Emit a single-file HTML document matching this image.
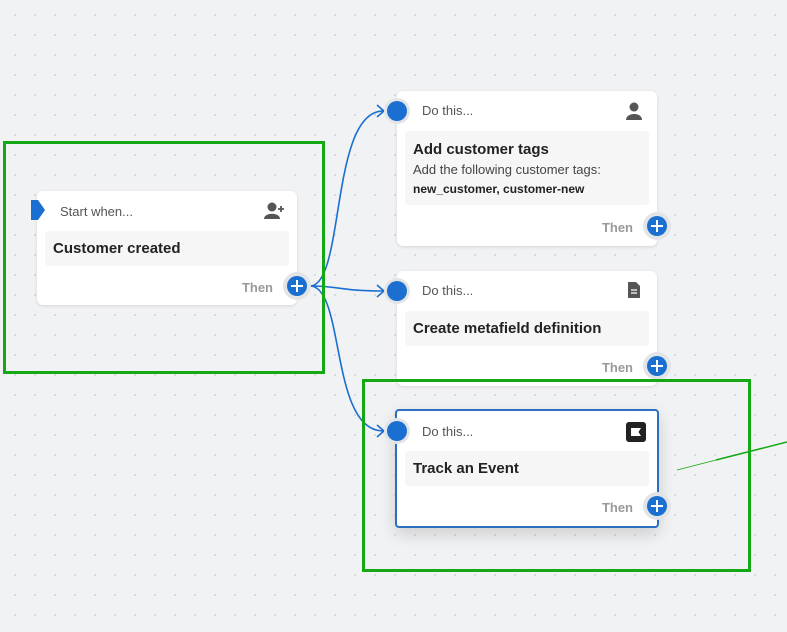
<!DOCTYPE html>
<html><head><style>
body{margin:0;width:787px;height:632px;overflow:hidden;background-color:#f1f2f3;background-image:radial-gradient(circle,#d6d8db 1px,transparent 1.2px);background-size:20px 20px;background-position:5px 5px;font-family:"Liberation Sans",sans-serif;position:relative}
.card{position:absolute;background:#fff;border-radius:6px;box-shadow:0 1px 3px rgba(0,0,0,.12)}
.hd{position:absolute;left:25px;top:12px;font-size:13px;color:#555}
.in{position:absolute;left:8px;right:8px;background:#f6f6f7;border-radius:4px}
.ti{position:absolute;left:8px;font-size:15px;font-weight:bold;color:#222}
.then{position:absolute;right:24px;font-size:13px;font-weight:bold;color:#999}
.plus{position:absolute;width:20px;height:20px;border-radius:50%;background:#1a6fd1;box-shadow:0 0 0 4px #e3e4e6}
.plus:before{content:"";position:absolute;left:4px;top:9px;width:12px;height:2px;background:#fff}
.plus:after{content:"";position:absolute;left:9px;top:4px;width:2px;height:12px;background:#fff}
.dot{position:absolute;width:20px;height:20px;border-radius:50%;background:#1a6fd1;box-shadow:0 0 0 3px #e3e4e6}
.gb{position:absolute;border:3px solid #14a814}
</style></head><body>
<svg width="787" height="632" style="position:absolute;left:0;top:0">
<g fill="none" stroke="#1a6fd1" stroke-width="1.6">
<path d="M310,286 C345,286 330,111 383,111"/>
<path d="M310,286 C340,286 340,291 383,291"/>
<path d="M310,286 C345,286 330,431 383,431"/>
<path d="M377,105 L384,111 L377,117"/>
<path d="M377,285 L384,291 L377,297"/>
<path d="M377,425 L384,431 L377,437"/>
</g>
<line x1="677" y1="470" x2="716" y2="460" stroke="#14a814" stroke-width="0.8"/>
<line x1="716" y1="460" x2="787" y2="442" stroke="#14a814" stroke-width="1.5"/>
</svg>

<div class="card" style="left:37px;top:191px;width:260px;height:114px">
<div class="hd" style="left:23px;top:13px">Start when...</div>
<svg style="position:absolute;left:226px;top:10px" width="22" height="20"><circle cx="9" cy="6" r="4.5" fill="#555"/><path d="M1,18 C1,11 17,11 17,18Z" fill="#555"/><path d="M18,5v6M15,8h6" stroke="#555" stroke-width="1.8"/></svg>
<div class="in" style="top:40px;height:35px"><div class="ti" style="top:9px">Customer created</div></div>
<div class="then" style="top:89px">Then</div>
</div>
<svg style="position:absolute;left:29px;top:199px" width="18" height="22"><path d="M2,1 L9,1 L16,11 L9,21 L2,21Z" fill="#1a6fd1"/></svg>
<div class="plus" style="left:287px;top:276px"></div>

<div class="card" style="left:397px;top:91px;width:260px;height:155px">
<div class="hd">Do this...</div>
<svg style="position:absolute;left:228px;top:10px" width="18" height="20"><circle cx="9" cy="6" r="4.5" fill="#555"/><path d="M1,19 C1,11 17,11 17,19Z" fill="#555"/></svg>
<div class="in" style="top:40px;height:74px">
<div class="ti" style="top:10px">Add customer tags</div>
<div style="position:absolute;left:8px;top:31px;font-size:13px;color:#444">Add the following customer tags:</div>
<div style="position:absolute;left:8px;top:51px;font-size:12px;font-weight:bold;color:#222">new_customer, customer-new</div>
</div>
<div class="then" style="top:129px">Then</div>
</div>
<div class="dot" style="left:387px;top:101px"></div>
<div class="plus" style="left:647px;top:216px"></div>

<div class="card" style="left:397px;top:271px;width:260px;height:115px">
<div class="hd">Do this...</div>
<svg style="position:absolute;left:230px;top:10px" width="14" height="18"><path d="M1,1h8l4,4v12h-12Z" fill="#555"/><path d="M4,9h6M4,12h6" stroke="#fff" stroke-width="1.2"/></svg>
<div class="in" style="top:40px;height:35px"><div class="ti" style="top:9px">Create metafield definition</div></div>
<div class="then" style="top:89px">Then</div>
</div>
<div class="dot" style="left:387px;top:281px"></div>
<div class="plus" style="left:647px;top:356px"></div>

<div class="card" style="left:395px;top:409px;width:260px;height:115px;border:2px solid #2a6fc0;border-radius:4px;box-shadow:0 6px 16px rgba(0,0,0,.15)">
<div class="hd" style="top:13px">Do this...</div>
<div style="position:absolute;left:229px;top:11px;width:20px;height:20px;background:#222;border-radius:3px"><div style="position:absolute;left:5px;top:6px;width:10px;height:8px;background:#fff;clip-path:polygon(0 0,100% 0,75% 50%,100% 100%,0 100%)"></div></div>
<div class="in" style="top:40px;height:35px"><div class="ti" style="top:9px">Track an Event</div></div>
<div class="then" style="top:89px">Then</div>
</div>
<div class="dot" style="left:387px;top:421px"></div>
<div class="plus" style="left:647px;top:496px"></div>

<div class="gb" style="left:3px;top:141px;width:316px;height:227px"></div>
<div class="gb" style="left:362px;top:379px;width:383px;height:187px"></div>
</body></html>
